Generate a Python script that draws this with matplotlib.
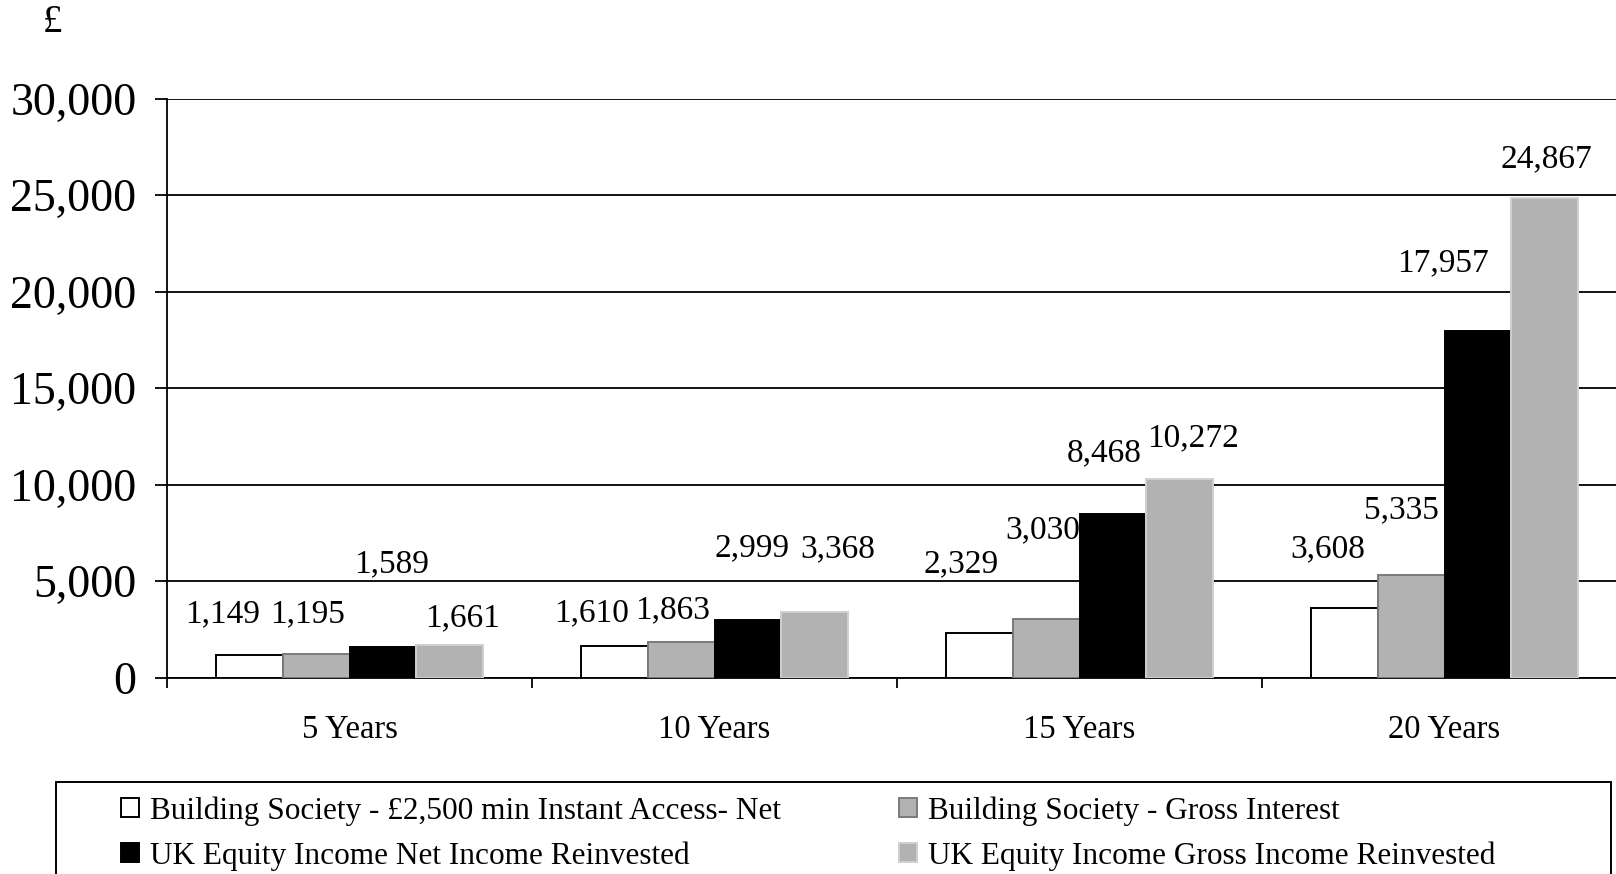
import matplotlib
matplotlib.use("Agg")
import matplotlib.pyplot as plt
from matplotlib.patches import Rectangle
import numpy as np

plt.rcParams['font.family'] = ['Liberation Serif', 'DejaVu Serif']

categories = ["5 Years", "10 Years", "15 Years", "20 Years"]
series_names = [
    "Building Society - £2,500 min Instant Access- Net",
    "Building Society - Gross Interest",
    "UK Equity Income Net Income Reinvested",
    "UK Equity Income Gross Income Reinvested",
]
bs_net = [1149, 1610, 2329, 3608]
bs_gross = [1195, 1863, 3030, 5335]
ukei_net = [1589, 2999, 8468, 17957]
ukei_gross = [1661, 3368, 10272, 24867]
series = [bs_net, bs_gross, ukei_net, ukei_gross]
yticks = [0, 5000, 10000, 15000, 20000, 25000, 30000]

# styles
fills = ["white", "#b2b2b2", "black", "#b2b2b2"]
edges = ["black", "#7a7a7a", "black", "#cfcfcf"]

# label placement (layout): x offset from category center, y in data units
lab_dx = [[-0.349, -0.336, -0.325, -0.319],
          [-0.116, -0.114, -0.100, -0.119],
          [0.116, 0.103, 0.067, -0.004],
          [0.311, 0.338, 0.311, 0.278]]
lab_y = [[3296, 3348, 5891, 6669],
         [3296, 3503, 7656, 8693],
         [5891, 6721, 11653, 21462],
         [3088, 6669, 12432, 26859]]

W, H = 1616, 874
fig = plt.figure(figsize=(W / 100, H / 100), dpi=100)
ax = fig.add_axes([167 / W, (H - 677.5) / H, 1460 / W, 579 / H])

x = np.arange(len(categories))
bw = 0.183
handles = []
for i, vals in enumerate(series):
    b = ax.bar(x + (i - 1.5) * bw, vals, width=bw, color=fills[i],
               edgecolor=edges[i], linewidth=1.4, zorder=3, label=series_names[i])
    handles.append(b)
    for j, v in enumerate(vals):
        ax.text(x[j] + lab_dx[i][j], lab_y[i][j], f"{v:,}", ha="center",
                va="center", fontsize=24, zorder=4)

ax.set_xlim(-0.5, 3.5)
ax.set_ylim(0, 30000)
ax.set_yticks(yticks)
ax.set_yticklabels([f"{t:,}" for t in yticks], fontsize=33)
ax.yaxis.grid(True, color="black", linewidth=1.3, zorder=0)
ax.set_axisbelow(True)
ax.tick_params(axis="y", length=9, width=1.3, pad=13, direction="out")

ax.set_xticks(np.arange(-0.5, 3.6, 1.0))
ax.set_xticklabels([])
ax.set_xticks(x, minor=True)
ax.set_xticklabels(categories, minor=True, fontsize=23.5)
ax.tick_params(axis="x", which="major", length=7, width=1.3, direction="out")
ax.tick_params(axis="x", which="minor", length=0, pad=27)

for s in ["top", "right"]:
    ax.spines[s].set_visible(False)
ax.spines["left"].set_linewidth(1.3)
ax.spines["bottom"].set_linewidth(1.3)

fig.text(52 / W, 1 - 22 / H, "£", fontsize=28, ha="center", va="center")

# legend frame
fig.add_artist(Rectangle((56 / W, -0.05), (1611 - 56) / W, 0.05 + (H - 782) / H,
                         transform=fig.transFigure, facecolor="none",
                         edgecolor="black", linewidth=1.4))

leg_kw = dict(frameon=False, fontsize=22.5, handlelength=0.56, handleheight=0.56,
              handletextpad=0.36, labelspacing=0.5, borderpad=0, borderaxespad=0,
              loc="upper left")
leg1 = fig.legend([handles[0], handles[2]], [series_names[0], series_names[2]],
                  bbox_to_anchor=(121 / W, 1 - 796 / H), **leg_kw)
leg2 = fig.legend([handles[1], handles[3]], [series_names[1], series_names[3]],
                  bbox_to_anchor=(899 / W, 1 - 796 / H), **leg_kw)

fig.savefig("out.png", dpi=100)
